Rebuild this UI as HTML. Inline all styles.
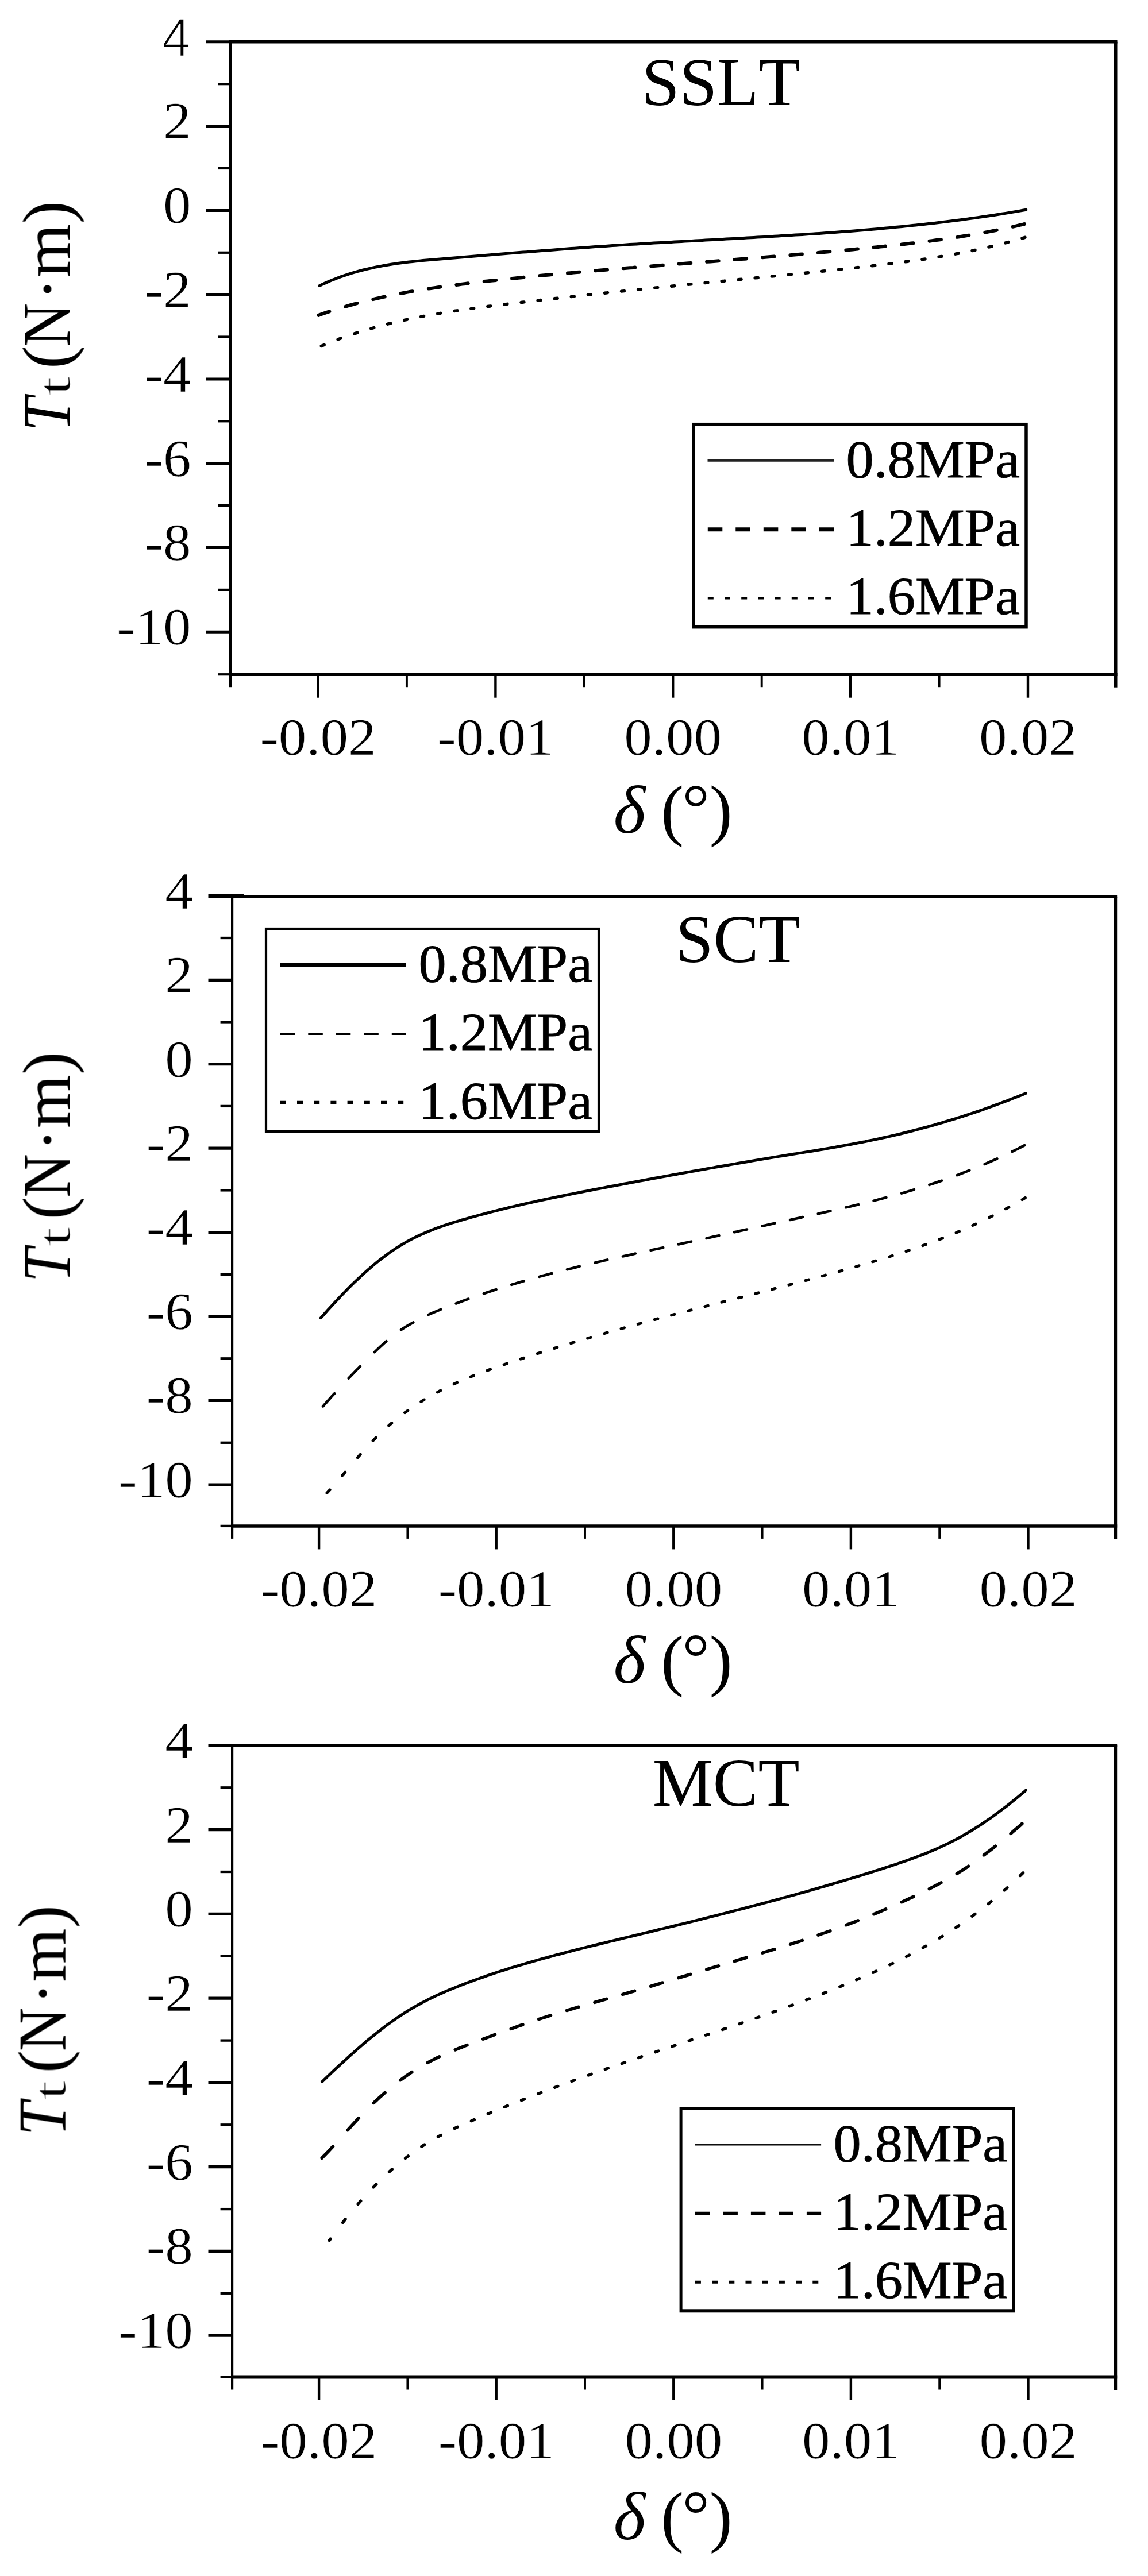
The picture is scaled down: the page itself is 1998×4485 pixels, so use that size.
<!DOCTYPE html>
<html lang="en"><head><meta charset="utf-8"><title>Tt vs delta</title>
<style>html,body{margin:0;padding:0;background:#fff;}svg{display:block;}text{font-family:'Liberation Serif', serif;fill:#000;font-kerning:none;}</style>
</head><body>
<svg width="1998" height="4485" viewBox="0 0 1998 4485">
<rect x="0" y="0" width="1998" height="4485" fill="#fff"/>
<defs><filter id="soft" x="0" y="0" width="1998" height="4485" filterUnits="userSpaceOnUse"><feGaussianBlur stdDeviation="0.6"/></filter></defs>
<g filter="url(#soft)">
<g stroke="#000" stroke-linecap="butt" fill="none">
<line x1="398.2" y1="72.8" x2="1944.5" y2="72.8" stroke-width="5.6" />
<line x1="398.2" y1="1174.2" x2="1944.5" y2="1174.2" stroke-width="5.6" />
<line x1="401.0" y1="72.8" x2="401.0" y2="1174.2" stroke-width="5.6" />
<line x1="1941.4" y1="72.8" x2="1941.4" y2="1174.2" stroke-width="6.2" />
<line x1="358.5" y1="72.8" x2="401.0" y2="72.8" stroke-width="5.0" />
<line x1="379.5" y1="146.2" x2="401.0" y2="146.2" stroke-width="4.2" />
<line x1="358.5" y1="219.6" x2="401.0" y2="219.6" stroke-width="5.0" />
<line x1="379.5" y1="293.0" x2="401.0" y2="293.0" stroke-width="4.2" />
<line x1="358.5" y1="366.4" x2="401.0" y2="366.4" stroke-width="5.0" />
<line x1="379.5" y1="439.8" x2="401.0" y2="439.8" stroke-width="4.2" />
<line x1="358.5" y1="513.2" x2="401.0" y2="513.2" stroke-width="5.0" />
<line x1="379.5" y1="586.5" x2="401.0" y2="586.5" stroke-width="4.2" />
<line x1="358.5" y1="659.9" x2="401.0" y2="659.9" stroke-width="5.0" />
<line x1="379.5" y1="733.3" x2="401.0" y2="733.3" stroke-width="4.2" />
<line x1="358.5" y1="806.7" x2="401.0" y2="806.7" stroke-width="5.0" />
<line x1="379.5" y1="880.1" x2="401.0" y2="880.1" stroke-width="4.2" />
<line x1="358.5" y1="953.5" x2="401.0" y2="953.5" stroke-width="5.0" />
<line x1="379.5" y1="1026.9" x2="401.0" y2="1026.9" stroke-width="4.2" />
<line x1="358.5" y1="1100.3" x2="401.0" y2="1100.3" stroke-width="5.0" />
<line x1="379.5" y1="1174.2" x2="401.0" y2="1174.2" stroke-width="4.2" />
<line x1="401.0" y1="1174.2" x2="401.0" y2="1196.2" stroke-width="5.6" />
<line x1="553.5" y1="1174.2" x2="553.5" y2="1214.7" stroke-width="4.4" />
<line x1="707.9" y1="1174.2" x2="707.9" y2="1196.2" stroke-width="3.9" />
<line x1="862.4" y1="1174.2" x2="862.4" y2="1214.7" stroke-width="4.4" />
<line x1="1016.8" y1="1174.2" x2="1016.8" y2="1196.2" stroke-width="3.9" />
<line x1="1171.2" y1="1174.2" x2="1171.2" y2="1214.7" stroke-width="4.4" />
<line x1="1325.7" y1="1174.2" x2="1325.7" y2="1196.2" stroke-width="3.9" />
<line x1="1480.1" y1="1174.2" x2="1480.1" y2="1214.7" stroke-width="4.4" />
<line x1="1634.6" y1="1174.2" x2="1634.6" y2="1196.2" stroke-width="3.9" />
<line x1="1789.0" y1="1174.2" x2="1789.0" y2="1214.7" stroke-width="4.4" />
<line x1="1941.4" y1="1174.2" x2="1941.4" y2="1196.7" stroke-width="6.2" />
</g>
<text transform="translate(332.0,98.0) scale(0.95,1)" font-size="95" text-anchor="end" style="font-family:'Liberation Sans',sans-serif" stroke="#fff" stroke-width="2.6">4</text>
<text transform="translate(332.6,241.4) scale(1.055,1)" font-size="92" text-anchor="end" stroke="#fff" stroke-width="0.5">2</text>
<text transform="translate(332.6,388.2) scale(1.055,1)" font-size="92" text-anchor="end" stroke="#fff" stroke-width="0.5">0</text>
<text transform="translate(332.6,535.0) scale(1.055,1)" font-size="92" text-anchor="end" stroke="#fff" stroke-width="0.5">-2</text>
<text transform="translate(332.6,681.7) scale(1.055,1)" font-size="92" text-anchor="end" stroke="#fff" stroke-width="0.5">-4</text>
<text transform="translate(332.6,828.5) scale(1.055,1)" font-size="92" text-anchor="end" stroke="#fff" stroke-width="0.5">-6</text>
<text transform="translate(332.6,975.3) scale(1.055,1)" font-size="92" text-anchor="end" stroke="#fff" stroke-width="0.5">-8</text>
<text transform="translate(332.6,1122.1) scale(1.055,1)" font-size="92" text-anchor="end" stroke="#fff" stroke-width="0.5">-10</text>
<text transform="translate(553.5,1314.0) scale(1.055,1)" font-size="92" text-anchor="middle" stroke="#fff" stroke-width="0.5">-0.02</text>
<text transform="translate(862.4,1314.0) scale(1.055,1)" font-size="92" text-anchor="middle" stroke="#fff" stroke-width="0.5">-0.01</text>
<text transform="translate(1171.2,1314.0) scale(1.055,1)" font-size="92" text-anchor="middle" stroke="#fff" stroke-width="0.5">0.00</text>
<text transform="translate(1480.1,1314.0) scale(1.055,1)" font-size="92" text-anchor="middle" stroke="#fff" stroke-width="0.5">0.01</text>
<text transform="translate(1789.0,1314.0) scale(1.055,1)" font-size="92" text-anchor="middle" stroke="#fff" stroke-width="0.5">0.02</text>
<text transform="translate(1392.5,182.5) scale(1.0,1)" font-size="118" text-anchor="end" >SSLT</text>
<text x="1067.8" y="1450.4" font-size="119.5"><tspan font-style="italic">δ</tspan><tspan dx="-3"> (</tspan><tspan dx="-2.8" dy="-3.4">°</tspan><tspan dx="-0.3" dy="3.4">)</tspan></text>
<text transform="translate(121.5,751.0) rotate(-90)" font-size="119.5"><tspan font-style="italic" textLength="59" lengthAdjust="spacingAndGlyphs">T</tspan><tspan font-size="80" dx="2.5" textLength="35" lengthAdjust="spacingAndGlyphs" stroke="#fff" stroke-width="1.6">t</tspan><tspan dx="-17.5"> (</tspan><tspan dx="-1.5" textLength="76" lengthAdjust="spacingAndGlyphs">N</tspan><tspan dx="4.5">·</tspan><tspan dx="0.5">m</tspan><tspan dx="0.5">)</tspan></text>
<g fill="none" stroke="#000" stroke-linejoin="round" stroke-linecap="round">
<path d="M556.1,497.5 L562.1,494.6 L568.1,491.9 L574.1,489.3 L580.1,486.8 L586.1,484.5 L592.1,482.2 L598.1,480.1 L604.1,478.1 L610.1,476.2 L616.1,474.4 L622.1,472.7 L628.1,471.0 L634.1,469.5 L640.1,468.1 L646.1,466.7 L652.1,465.4 L658.1,464.2 L664.1,463.1 L670.1,462.0 L676.1,461.0 L682.1,460.0 L688.1,459.1 L694.1,458.3 L700.1,457.5 L706.1,456.8 L712.1,456.1 L718.1,455.4 L724.1,454.8 L730.1,454.2 L736.1,453.6 L742.1,453.0 L748.1,452.5 L754.1,452.0 L760.1,451.5 L766.1,451.0 L772.1,450.5 L778.1,450.0 L784.1,449.5 L790.1,449.0 L796.1,448.5 L802.1,448.0 L808.1,447.5 L814.1,447.0 L820.1,446.5 L826.1,446.0 L832.1,445.5 L838.1,445.0 L844.1,444.5 L850.1,444.0 L856.1,443.5 L862.1,443.0 L868.0,442.6 L874.0,442.1 L880.0,441.6 L886.0,441.1 L892.0,440.6 L898.0,440.1 L904.0,439.6 L910.0,439.1 L916.0,438.7 L922.0,438.2 L928.0,437.7 L934.0,437.2 L940.0,436.8 L946.0,436.3 L952.0,435.8 L958.0,435.4 L964.0,434.9 L970.0,434.4 L976.0,434.0 L982.0,433.5 L988.0,433.1 L994.0,432.6 L1000.0,432.2 L1006.0,431.7 L1012.0,431.3 L1018.0,430.9 L1024.0,430.4 L1030.0,430.0 L1036.0,429.6 L1042.0,429.2 L1048.0,428.8 L1054.0,428.4 L1060.0,428.0 L1066.0,427.6 L1072.0,427.2 L1078.0,426.8 L1084.0,426.4 L1090.0,426.0 L1096.0,425.6 L1102.0,425.3 L1108.0,424.9 L1114.0,424.5 L1120.0,424.2 L1126.0,423.8 L1132.0,423.4 L1138.0,423.1 L1144.0,422.7 L1150.0,422.4 L1156.0,422.0 L1162.0,421.7 L1168.0,421.4 L1174.0,421.0 L1180.0,420.7 L1186.0,420.4 L1192.0,420.0 L1198.0,419.7 L1204.0,419.4 L1210.0,419.0 L1216.0,418.7 L1222.0,418.4 L1228.0,418.1 L1234.0,417.7 L1240.0,417.4 L1246.0,417.1 L1252.0,416.8 L1258.0,416.4 L1264.0,416.1 L1270.0,415.8 L1276.0,415.4 L1282.0,415.1 L1288.0,414.8 L1294.0,414.4 L1300.0,414.1 L1306.0,413.8 L1312.0,413.4 L1318.0,413.1 L1324.0,412.7 L1330.0,412.4 L1336.0,412.0 L1342.0,411.7 L1348.0,411.3 L1354.0,411.0 L1360.0,410.6 L1366.0,410.3 L1372.0,409.9 L1378.0,409.5 L1384.0,409.1 L1390.0,408.8 L1396.0,408.4 L1402.0,408.0 L1408.0,407.6 L1414.0,407.2 L1420.0,406.8 L1426.0,406.4 L1432.0,406.0 L1438.0,405.5 L1444.0,405.1 L1450.0,404.7 L1456.0,404.2 L1462.0,403.8 L1468.0,403.3 L1474.0,402.9 L1479.9,402.4 L1485.9,401.9 L1491.9,401.4 L1497.9,401.0 L1503.9,400.5 L1509.9,400.0 L1515.9,399.4 L1521.9,398.9 L1527.9,398.4 L1533.9,397.9 L1539.9,397.3 L1545.9,396.8 L1551.9,396.2 L1557.9,395.6 L1563.9,395.0 L1569.9,394.4 L1575.9,393.8 L1581.9,393.2 L1587.9,392.6 L1593.9,392.0 L1599.9,391.3 L1605.9,390.7 L1611.9,390.0 L1617.9,389.3 L1623.9,388.7 L1629.9,388.0 L1635.9,387.3 L1641.9,386.5 L1647.9,385.8 L1653.9,385.1 L1659.9,384.3 L1665.9,383.5 L1671.9,382.7 L1677.9,382.0 L1683.9,381.1 L1689.9,380.3 L1695.9,379.5 L1701.9,378.6 L1707.9,377.8 L1713.9,376.9 L1719.9,376.0 L1725.9,375.1 L1731.9,374.2 L1737.9,373.3 L1743.9,372.3 L1749.9,371.4 L1755.9,370.4 L1761.9,369.4 L1767.9,368.4 L1773.9,367.4 L1779.9,366.3 L1785.9,365.3 L1785.9,365.3" stroke-width="5"/>
<path d="M554.4,548.8 L560.4,546.7 L566.4,544.6 L572.4,542.6 L573.3,542.3 M601.1,533.8 L606.4,532.2 L612.4,530.5 L618.4,528.9 L621.5,528.1 M649.3,521.1 L654.4,519.9 L660.4,518.6 L666.4,517.2 L669.7,516.5 M697.6,510.9 L702.3,510.0 L708.3,508.9 L714.3,507.8 L718.0,507.2 M745.9,502.6 L750.3,502.0 L756.3,501.1 L762.3,500.2 L766.4,499.6 M794.3,495.9 L798.3,495.4 L804.3,494.6 L810.3,493.9 L814.8,493.3 M842.7,490.1 L848.3,489.5 L854.3,488.8 L860.3,488.2 L863.2,487.9 M891.1,484.9 L896.3,484.4 L902.3,483.8 L908.3,483.2 L911.6,482.8 M939.5,480.1 L944.2,479.6 L950.2,479.0 L956.2,478.5 L960.0,478.1 M988.0,475.6 L992.2,475.2 L998.2,474.6 L1004.2,474.1 L1008.5,473.7 M1036.4,471.3 L1042.2,470.8 L1048.2,470.3 L1054.2,469.8 L1056.9,469.6 M1084.8,467.3 L1090.2,466.8 L1096.2,466.3 L1102.2,465.9 L1105.3,465.6 M1133.3,463.4 L1138.2,463.0 L1144.2,462.5 L1150.2,462.0 L1153.8,461.8 M1181.7,459.6 L1186.1,459.2 L1192.1,458.8 L1198.1,458.3 L1202.2,458.0 M1230.1,455.8 L1236.1,455.4 L1242.1,454.9 L1248.1,454.4 L1250.6,454.2 M1278.6,452.0 L1284.1,451.6 L1290.1,451.1 L1296.1,450.7 L1299.1,450.4 M1327.0,448.2 L1332.1,447.8 L1338.1,447.3 L1344.1,446.8 L1347.5,446.5 M1375.4,444.2 L1380.1,443.8 L1386.1,443.3 L1392.1,442.8 L1395.9,442.4 M1423.9,440.0 L1428.0,439.6 L1434.0,439.1 L1440.0,438.5 L1444.4,438.1 M1472.3,435.5 L1478.0,435.0 L1484.0,434.4 L1490.0,433.8 L1492.8,433.5 M1520.7,430.7 L1526.0,430.2 L1532.0,429.6 L1538.0,429.0 L1541.2,428.6 M1569.1,425.6 L1574.0,425.0 L1580.0,424.3 L1586.0,423.6 L1589.6,423.2 M1617.5,419.7 L1622.0,419.1 L1628.0,418.3 L1634.0,417.5 L1638.0,417.0 M1665.9,412.9 L1669.9,412.2 L1675.9,411.3 L1681.9,410.3 L1686.4,409.6 M1714.3,404.7 L1719.9,403.6 L1725.9,402.5 L1731.9,401.3 L1734.7,400.7 M1762.6,394.8 L1767.9,393.6 L1773.9,392.2 L1779.9,390.8 L1783.0,390.0" stroke-width="6"/>
<path d="M559.2,602.4 L563.4,600.7 L564.3,600.3 M588.0,591.0 L593.0,589.1 M616.8,580.9 L621.3,579.4 L621.9,579.2 M645.7,572.0 L650.8,570.5 M674.6,564.2 L679.3,563.0 L679.7,562.9 M703.6,557.4 L708.7,556.3 M732.6,551.4 L737.2,550.5 L737.7,550.4 M761.6,546.2 L766.7,545.3 M790.7,541.5 L795.1,540.9 L795.8,540.8 M819.8,537.4 L824.8,536.7 M848.8,533.5 L853.0,533.0 L853.9,532.9 M877.9,530.0 L883.0,529.3 M907.0,526.5 L911.0,526.0 L912.1,525.9 M936.0,523.1 L940.9,522.5 L941.1,522.5 M965.1,519.7 L970.2,519.2 M994.2,516.5 L998.9,516.0 L999.3,515.9 M1023.3,513.3 L1028.4,512.7 M1052.4,510.2 L1056.8,509.7 L1057.5,509.6 M1081.4,507.1 L1086.5,506.6 M1110.5,504.1 L1114.7,503.7 L1115.6,503.6 M1139.6,501.1 L1144.7,500.6 L1144.7,500.6 M1168.7,498.2 L1173.8,497.7 M1197.8,495.3 L1202.6,494.8 L1202.9,494.8 M1226.9,492.5 L1232.0,492.0 M1255.9,489.6 L1260.5,489.2 L1261.0,489.1 M1285.0,486.8 L1290.1,486.3 M1314.1,483.9 L1318.5,483.5 L1319.2,483.5 M1343.2,481.1 L1348.3,480.6 M1372.3,478.2 L1376.4,477.8 L1377.4,477.7 M1401.4,475.3 L1406.4,474.8 L1406.5,474.8 M1430.5,472.3 L1435.5,471.8 M1459.5,469.2 L1464.3,468.7 L1464.6,468.7 M1488.6,466.1 L1493.7,465.5 M1517.7,462.9 L1522.2,462.3 L1522.8,462.3 M1546.8,459.4 L1551.9,458.8 M1575.8,455.8 L1580.2,455.2 L1580.9,455.1 M1604.9,451.7 L1610.0,451.0 M1634.0,447.2 L1638.1,446.5 L1639.0,446.4 M1663.0,442.2 L1668.0,441.2 L1668.1,441.2 M1692.0,436.5 L1696.0,435.7 L1697.1,435.4 M1721.0,430.1 L1726.0,428.9 L1726.1,428.9 M1750.0,422.9 L1755.0,421.5 M1778.9,414.8 L1783.9,413.3 L1784.0,413.3" stroke-width="5.4"/>
</g>
<rect x="1207.0" y="738.7" width="579" height="353" fill="#fff" stroke="#000" stroke-width="5.5"/>
<g stroke="#000" fill="none">
<line x1="1231.5" y1="801.7" x2="1451.0" y2="801.7" stroke-width="4" stroke="#222"/>
<line x1="1231.8" y1="921.7" x2="1451.0" y2="921.7" stroke-width="7" stroke-dasharray="25.5 23"/>
<line x1="1231.8" y1="1041.2" x2="1451.0" y2="1041.2" stroke-width="4.5" stroke-dasharray="10 19.2"/>
</g>
<text transform="translate(1472.5,830.5) scale(1.025,1)" font-size="94" text-anchor="start" stroke="#000" stroke-width="0.8">0.8MPa</text>
<text transform="translate(1472.5,950.0) scale(1.025,1)" font-size="94" text-anchor="start" stroke="#000" stroke-width="0.8">1.2MPa</text>
<text transform="translate(1472.5,1069.2) scale(1.025,1)" font-size="94" text-anchor="start" stroke="#000" stroke-width="0.8">1.6MPa</text>
<g stroke="#000" stroke-linecap="butt" fill="none">
<line x1="402.0" y1="1561.1" x2="1944.2" y2="1561.1" stroke-width="4" />
<line x1="402.0" y1="2656.9" x2="1944.2" y2="2656.9" stroke-width="5.5" />
<line x1="404.1" y1="1561.1" x2="404.1" y2="2656.9" stroke-width="4.2" />
<line x1="1941.2" y1="1561.1" x2="1941.2" y2="2656.9" stroke-width="6" />
<line x1="362.5" y1="1559.8" x2="424.1" y2="1559.8" stroke-width="6.4" />
<line x1="383.6" y1="1633.0" x2="404.1" y2="1633.0" stroke-width="4.3" />
<line x1="362.5" y1="1706.3" x2="404.1" y2="1706.3" stroke-width="5.2" />
<line x1="383.6" y1="1779.5" x2="404.1" y2="1779.5" stroke-width="4.3" />
<line x1="362.5" y1="1852.7" x2="404.1" y2="1852.7" stroke-width="5.2" />
<line x1="383.6" y1="1925.9" x2="404.1" y2="1925.9" stroke-width="4.3" />
<line x1="362.5" y1="1999.2" x2="404.1" y2="1999.2" stroke-width="5.2" />
<line x1="383.6" y1="2072.4" x2="404.1" y2="2072.4" stroke-width="4.3" />
<line x1="362.5" y1="2145.6" x2="404.1" y2="2145.6" stroke-width="5.2" />
<line x1="383.6" y1="2218.9" x2="404.1" y2="2218.9" stroke-width="4.3" />
<line x1="362.5" y1="2292.1" x2="404.1" y2="2292.1" stroke-width="5.2" />
<line x1="383.6" y1="2365.3" x2="404.1" y2="2365.3" stroke-width="4.3" />
<line x1="362.5" y1="2438.5" x2="404.1" y2="2438.5" stroke-width="5.2" />
<line x1="383.6" y1="2511.8" x2="404.1" y2="2511.8" stroke-width="4.3" />
<line x1="362.5" y1="2585.0" x2="404.1" y2="2585.0" stroke-width="5.2" />
<line x1="383.6" y1="2656.9" x2="404.1" y2="2656.9" stroke-width="4.3" />
<line x1="404.1" y1="2656.9" x2="404.1" y2="2678.9" stroke-width="4.2" />
<line x1="555.1" y1="2656.9" x2="555.1" y2="2697.4" stroke-width="4.4" />
<line x1="709.4" y1="2656.9" x2="709.4" y2="2678.9" stroke-width="3.9" />
<line x1="863.7" y1="2656.9" x2="863.7" y2="2697.4" stroke-width="4.4" />
<line x1="1018.0" y1="2656.9" x2="1018.0" y2="2678.9" stroke-width="3.9" />
<line x1="1172.3" y1="2656.9" x2="1172.3" y2="2697.4" stroke-width="4.4" />
<line x1="1326.6" y1="2656.9" x2="1326.6" y2="2678.9" stroke-width="3.9" />
<line x1="1480.9" y1="2656.9" x2="1480.9" y2="2697.4" stroke-width="4.4" />
<line x1="1635.2" y1="2656.9" x2="1635.2" y2="2678.9" stroke-width="3.9" />
<line x1="1789.5" y1="2656.9" x2="1789.5" y2="2697.4" stroke-width="4.4" />
<line x1="1941.2" y1="2656.9" x2="1941.2" y2="2679.4" stroke-width="6" />
</g>
<text transform="translate(335.7,1581.6) scale(1.055,1)" font-size="92" text-anchor="end" stroke="#fff" stroke-width="0.5">4</text>
<text transform="translate(335.7,1728.1) scale(1.055,1)" font-size="92" text-anchor="end" stroke="#fff" stroke-width="0.5">2</text>
<text transform="translate(335.7,1874.5) scale(1.055,1)" font-size="92" text-anchor="end" stroke="#fff" stroke-width="0.5">0</text>
<text transform="translate(335.7,2021.0) scale(1.055,1)" font-size="92" text-anchor="end" stroke="#fff" stroke-width="0.5">-2</text>
<text transform="translate(335.7,2167.4) scale(1.055,1)" font-size="92" text-anchor="end" stroke="#fff" stroke-width="0.5">-4</text>
<text transform="translate(335.7,2313.9) scale(1.055,1)" font-size="92" text-anchor="end" stroke="#fff" stroke-width="0.5">-6</text>
<text transform="translate(335.7,2460.3) scale(1.055,1)" font-size="92" text-anchor="end" stroke="#fff" stroke-width="0.5">-8</text>
<text transform="translate(335.7,2606.8) scale(1.055,1)" font-size="92" text-anchor="end" stroke="#fff" stroke-width="0.5">-10</text>
<text transform="translate(555.1,2797.1) scale(1.055,1)" font-size="92" text-anchor="middle" stroke="#fff" stroke-width="0.5">-0.02</text>
<text transform="translate(863.7,2797.1) scale(1.055,1)" font-size="92" text-anchor="middle" stroke="#fff" stroke-width="0.5">-0.01</text>
<text transform="translate(1172.3,2797.1) scale(1.055,1)" font-size="92" text-anchor="middle" stroke="#fff" stroke-width="0.5">0.00</text>
<text transform="translate(1480.9,2797.1) scale(1.055,1)" font-size="92" text-anchor="middle" stroke="#fff" stroke-width="0.5">0.01</text>
<text transform="translate(1789.5,2797.1) scale(1.055,1)" font-size="92" text-anchor="middle" stroke="#fff" stroke-width="0.5">0.02</text>
<text transform="translate(1392.5,1675.2) scale(1.0,1)" font-size="118" text-anchor="end" >SCT</text>
<text x="1067.8" y="2929.7" font-size="119.5"><tspan font-style="italic">δ</tspan><tspan dx="-3"> (</tspan><tspan dx="-2.8" dy="-3.4">°</tspan><tspan dx="-0.3" dy="3.4">)</tspan></text>
<text transform="translate(121.5,2232.3) rotate(-90)" font-size="119.5"><tspan font-style="italic" textLength="59" lengthAdjust="spacingAndGlyphs">T</tspan><tspan font-size="80" dx="2.5" textLength="35" lengthAdjust="spacingAndGlyphs" stroke="#fff" stroke-width="1.6">t</tspan><tspan dx="-17.5"> (</tspan><tspan dx="-1.5" textLength="76" lengthAdjust="spacingAndGlyphs">N</tspan><tspan dx="4.5">·</tspan><tspan dx="0.5">m</tspan><tspan dx="0.5">)</tspan></text>
<g fill="none" stroke="#000" stroke-linejoin="round" stroke-linecap="round">
<path d="M558.3,2294.7 L564.3,2288.0 L570.3,2281.2 L576.3,2274.6 L582.3,2268.1 L588.3,2261.7 L594.3,2255.4 L600.3,2249.2 L606.3,2243.1 L612.3,2237.1 L618.3,2231.3 L624.3,2225.6 L630.2,2220.0 L636.2,2214.6 L642.2,2209.3 L648.2,2204.1 L654.2,2199.1 L660.2,2194.3 L666.2,2189.7 L672.2,2185.2 L678.2,2180.8 L684.2,2176.7 L690.2,2172.7 L696.2,2168.9 L702.2,2165.3 L708.2,2161.9 L714.2,2158.6 L720.2,2155.5 L726.2,2152.6 L732.2,2149.8 L738.2,2147.1 L744.2,2144.5 L750.2,2142.1 L756.2,2139.7 L762.2,2137.5 L768.1,2135.4 L774.1,2133.3 L780.1,2131.3 L786.1,2129.4 L792.1,2127.6 L798.1,2125.8 L804.1,2124.0 L810.1,2122.3 L816.1,2120.6 L822.1,2118.9 L828.1,2117.3 L834.1,2115.7 L840.1,2114.1 L846.1,2112.5 L852.1,2110.9 L858.1,2109.4 L864.1,2107.9 L870.1,2106.4 L876.1,2104.9 L882.1,2103.4 L888.1,2102.0 L894.1,2100.6 L900.0,2099.1 L906.0,2097.8 L912.0,2096.4 L918.0,2095.0 L924.0,2093.7 L930.0,2092.4 L936.0,2091.0 L942.0,2089.7 L948.0,2088.5 L954.0,2087.2 L960.0,2085.9 L966.0,2084.7 L972.0,2083.4 L978.0,2082.2 L984.0,2081.0 L990.0,2079.8 L996.0,2078.6 L1002.0,2077.4 L1008.0,2076.2 L1014.0,2075.0 L1020.0,2073.9 L1026.0,2072.7 L1032.0,2071.5 L1037.9,2070.4 L1043.9,2069.2 L1049.9,2068.1 L1055.9,2067.0 L1061.9,2065.8 L1067.9,2064.7 L1073.9,2063.6 L1079.9,2062.5 L1085.9,2061.3 L1091.9,2060.2 L1097.9,2059.1 L1103.9,2058.0 L1109.9,2056.9 L1115.9,2055.8 L1121.9,2054.7 L1127.9,2053.5 L1133.9,2052.4 L1139.9,2051.3 L1145.9,2050.2 L1151.9,2049.1 L1157.9,2048.0 L1163.9,2046.9 L1169.9,2045.8 L1175.8,2044.7 L1181.8,2043.6 L1187.8,2042.5 L1193.8,2041.5 L1199.8,2040.4 L1205.8,2039.3 L1211.8,2038.2 L1217.8,2037.1 L1223.8,2036.1 L1229.8,2035.0 L1235.8,2033.9 L1241.8,2032.9 L1247.8,2031.8 L1253.8,2030.8 L1259.8,2029.7 L1265.8,2028.7 L1271.8,2027.6 L1277.8,2026.6 L1283.8,2025.5 L1289.8,2024.5 L1295.8,2023.5 L1301.8,2022.5 L1307.8,2021.4 L1313.7,2020.4 L1319.7,2019.4 L1325.7,2018.4 L1331.7,2017.4 L1337.7,2016.4 L1343.7,2015.4 L1349.7,2014.4 L1355.7,2013.4 L1361.7,2012.5 L1367.7,2011.5 L1373.7,2010.5 L1379.7,2009.5 L1385.7,2008.6 L1391.7,2007.6 L1397.7,2006.6 L1403.7,2005.6 L1409.7,2004.7 L1415.7,2003.7 L1421.7,2002.7 L1427.7,2001.7 L1433.7,2000.7 L1439.7,1999.6 L1445.6,1998.6 L1451.6,1997.6 L1457.6,1996.5 L1463.6,1995.4 L1469.6,1994.4 L1475.6,1993.3 L1481.6,1992.2 L1487.6,1991.0 L1493.6,1989.9 L1499.6,1988.7 L1505.6,1987.6 L1511.6,1986.3 L1517.6,1985.1 L1523.6,1983.9 L1529.6,1982.6 L1535.6,1981.3 L1541.6,1980.0 L1547.6,1978.6 L1553.6,1977.3 L1559.6,1975.9 L1565.6,1974.5 L1571.6,1973.0 L1577.6,1971.5 L1583.5,1970.0 L1589.5,1968.5 L1595.5,1966.9 L1601.5,1965.4 L1607.5,1963.7 L1613.5,1962.1 L1619.5,1960.5 L1625.5,1958.8 L1631.5,1957.0 L1637.5,1955.3 L1643.5,1953.5 L1649.5,1951.7 L1655.5,1949.9 L1661.5,1948.1 L1667.5,1946.2 L1673.5,1944.3 L1679.5,1942.3 L1685.5,1940.4 L1691.5,1938.4 L1697.5,1936.4 L1703.5,1934.3 L1709.5,1932.3 L1715.5,1930.2 L1721.4,1928.0 L1727.4,1925.9 L1733.4,1923.7 L1739.4,1921.5 L1745.4,1919.2 L1751.4,1917.0 L1757.4,1914.7 L1763.4,1912.3 L1769.4,1910.0 L1775.4,1907.6 L1781.4,1905.2 L1785.4,1903.5" stroke-width="5"/>
<path d="M562.1,2448.6 L566.3,2443.8 L572.3,2437.0 L578.3,2430.3 L582.1,2426.2 M606.7,2399.7 L612.3,2393.9 L618.3,2387.7 L624.3,2381.5 L627.0,2378.8 M651.9,2354.1 L656.3,2349.9 L662.3,2344.3 L668.3,2338.9 L672.4,2335.2 M698.0,2315.3 L702.3,2312.5 L708.3,2308.8 L714.3,2305.3 L719.3,2302.5 M745.6,2289.0 L750.3,2286.9 L756.3,2284.3 L762.3,2281.8 L767.2,2279.8 M793.7,2269.5 L798.3,2267.8 L804.3,2265.5 L810.3,2263.3 L815.3,2261.5 M841.9,2252.3 L846.3,2250.8 L852.3,2248.8 L858.3,2246.8 L863.6,2245.1 M890.2,2236.8 L894.3,2235.6 L900.3,2233.8 L906.3,2232.0 L911.9,2230.4 M938.6,2222.9 L944.3,2221.3 L950.3,2219.7 L956.3,2218.1 L960.3,2217.0 M987.0,2210.2 L992.3,2208.9 L998.3,2207.4 L1004.3,2205.9 L1008.8,2204.8 M1035.5,2198.5 L1040.3,2197.3 L1046.3,2196.0 L1052.3,2194.6 L1057.3,2193.4 M1084.0,2187.4 L1088.3,2186.5 L1094.3,2185.2 L1100.3,2183.9 L1105.8,2182.6 M1132.5,2176.8 L1138.3,2175.6 L1144.3,2174.3 L1150.3,2173.0 L1154.3,2172.2 M1181.0,2166.4 L1186.2,2165.3 L1192.2,2164.0 L1198.2,2162.7 L1202.9,2161.7 M1229.6,2155.9 L1234.2,2154.9 L1240.2,2153.6 L1246.2,2152.3 L1251.4,2151.2 M1278.1,2145.3 L1282.2,2144.4 L1288.2,2143.1 L1294.2,2141.7 L1299.9,2140.5 M1326.6,2134.6 L1332.2,2133.4 L1338.2,2132.1 L1344.2,2130.7 L1348.4,2129.8 M1375.1,2123.9 L1380.2,2122.8 L1386.2,2121.5 L1392.2,2120.2 L1396.9,2119.1 M1423.7,2113.3 L1428.2,2112.3 L1434.2,2110.9 L1440.2,2109.6 L1445.5,2108.4 M1472.2,2102.3 L1476.2,2101.4 L1482.2,2099.9 L1488.2,2098.5 L1494.0,2097.2 M1520.6,2090.6 L1526.2,2089.1 L1532.2,2087.6 L1538.2,2086.0 L1542.4,2084.9 M1569.1,2077.6 L1574.2,2076.1 L1580.2,2074.4 L1586.2,2072.6 L1590.8,2071.2 M1617.4,2062.9 L1622.2,2061.3 L1628.2,2059.3 L1634.2,2057.3 L1639.1,2055.6 M1665.7,2046.1 L1670.2,2044.3 L1676.2,2042.0 L1682.2,2039.7 L1687.3,2037.7 M1713.7,2026.8 L1718.2,2024.9 L1724.2,2022.2 L1730.2,2019.6 L1735.3,2017.3 M1761.7,2004.9 L1766.2,2002.7 L1772.2,1999.7 L1778.2,1996.6 L1783.1,1994.1" stroke-width="4.6"/>
<path d="M569.0,2599.4 L573.4,2594.6 L574.1,2593.9 M595.7,2569.0 L600.7,2563.1 M622.3,2537.8 L627.3,2532.1 M649.1,2508.2 L653.3,2504.0 L654.2,2503.0 M676.6,2482.1 L681.3,2478.0 L681.8,2477.6 M704.5,2459.6 L709.3,2456.2 L709.8,2455.8 M732.8,2440.4 L737.2,2437.7 L738.1,2437.1 M761.4,2423.9 L766.8,2421.0 M790.2,2409.6 L795.2,2407.3 L795.6,2407.1 M819.1,2397.1 L823.1,2395.5 L824.5,2395.0 M848.1,2386.1 L853.1,2384.2 L853.5,2384.1 M877.2,2375.9 L882.6,2374.0 M906.2,2366.1 L911.1,2364.5 L911.7,2364.3 M935.3,2356.7 L940.8,2354.9 M964.5,2347.5 L969.0,2346.1 L969.9,2345.8 M993.6,2338.6 L999.0,2337.0 L999.1,2337.0 M1022.7,2330.0 L1026.9,2328.8 L1028.2,2328.4 M1051.9,2321.6 L1056.9,2320.2 L1057.3,2320.0 M1081.0,2313.4 L1086.5,2311.9 M1110.2,2305.4 L1114.9,2304.1 L1115.7,2303.9 M1139.4,2297.5 L1144.8,2296.0 L1144.9,2296.0 M1168.6,2289.8 L1172.8,2288.7 L1174.0,2288.3 M1197.8,2282.2 L1202.8,2280.9 L1203.2,2280.8 M1226.9,2274.7 L1232.4,2273.3 M1256.1,2267.2 L1260.7,2266.0 L1261.6,2265.8 M1285.3,2259.7 L1290.7,2258.4 L1290.8,2258.4 M1314.5,2252.3 L1318.7,2251.2 L1320.0,2250.9 M1343.7,2244.8 L1348.6,2243.5 L1349.2,2243.4 M1372.9,2237.2 L1378.4,2235.8 M1402.1,2229.5 L1406.6,2228.3 L1407.6,2228.0 M1431.3,2221.6 L1436.5,2220.2 L1436.7,2220.1 M1460.4,2213.6 L1464.5,2212.5 L1465.9,2212.1 M1489.6,2205.3 L1494.5,2203.9 L1495.0,2203.8 M1518.7,2196.8 L1524.2,2195.2 M1547.9,2188.0 L1552.4,2186.5 L1553.3,2186.2 M1577.0,2178.6 L1582.4,2176.8 L1582.4,2176.8 M1606.0,2168.6 L1610.4,2167.0 L1611.5,2166.6 M1635.1,2157.8 L1640.3,2155.8 L1640.5,2155.7 M1664.0,2146.2 L1668.3,2144.4 L1669.5,2143.9 M1692.9,2133.5 L1698.3,2131.1 L1698.3,2131.1 M1721.8,2119.8 L1726.3,2117.5 L1727.2,2117.1 M1750.5,2104.8 L1755.9,2101.9 M1779.1,2088.6 L1784.2,2085.5 L1784.5,2085.3" stroke-width="5"/>
</g>
<rect x="463.0" y="1617.0" width="579" height="353" fill="#fff" stroke="#000" stroke-width="4.2"/>
<g stroke="#000" fill="none">
<line x1="487.5" y1="1680.0" x2="707.0" y2="1680.0" stroke-width="6.5" stroke="#000"/>
<line x1="487.8" y1="1800.0" x2="707.0" y2="1800.0" stroke-width="4.2" stroke-dasharray="25.5 23"/>
<line x1="487.8" y1="1919.5" x2="707.0" y2="1919.5" stroke-width="5.7" stroke-dasharray="10 19.2"/>
</g>
<text transform="translate(728.5,1708.8) scale(1.025,1)" font-size="94" text-anchor="start" stroke="#000" stroke-width="0.8">0.8MPa</text>
<text transform="translate(728.5,1828.3) scale(1.025,1)" font-size="94" text-anchor="start" stroke="#000" stroke-width="0.8">1.2MPa</text>
<text transform="translate(728.5,1947.5) scale(1.025,1)" font-size="94" text-anchor="start" stroke="#000" stroke-width="0.8">1.6MPa</text>
<g stroke="#000" stroke-linecap="butt" fill="none">
<line x1="402.0" y1="3038.9" x2="1944.2" y2="3038.9" stroke-width="6" />
<line x1="402.0" y1="4138.5" x2="1944.2" y2="4138.5" stroke-width="5.8" />
<line x1="404.1" y1="3038.9" x2="404.1" y2="4138.5" stroke-width="4.2" />
<line x1="1941.2" y1="3038.9" x2="1941.2" y2="4138.5" stroke-width="6" />
<line x1="362.5" y1="3038.9" x2="404.1" y2="3038.9" stroke-width="5.2" />
<line x1="383.6" y1="3112.3" x2="404.1" y2="3112.3" stroke-width="4.3" />
<line x1="362.5" y1="3185.7" x2="404.1" y2="3185.7" stroke-width="5.2" />
<line x1="383.6" y1="3259.0" x2="404.1" y2="3259.0" stroke-width="4.3" />
<line x1="362.5" y1="3332.4" x2="404.1" y2="3332.4" stroke-width="5.2" />
<line x1="383.6" y1="3405.8" x2="404.1" y2="3405.8" stroke-width="4.3" />
<line x1="362.5" y1="3479.2" x2="404.1" y2="3479.2" stroke-width="5.2" />
<line x1="383.6" y1="3552.6" x2="404.1" y2="3552.6" stroke-width="4.3" />
<line x1="362.5" y1="3625.9" x2="404.1" y2="3625.9" stroke-width="5.2" />
<line x1="383.6" y1="3699.3" x2="404.1" y2="3699.3" stroke-width="4.3" />
<line x1="362.5" y1="3772.7" x2="404.1" y2="3772.7" stroke-width="5.2" />
<line x1="383.6" y1="3846.1" x2="404.1" y2="3846.1" stroke-width="4.3" />
<line x1="362.5" y1="3919.4" x2="404.1" y2="3919.4" stroke-width="5.2" />
<line x1="383.6" y1="3992.8" x2="404.1" y2="3992.8" stroke-width="4.3" />
<line x1="362.5" y1="4066.2" x2="404.1" y2="4066.2" stroke-width="5.2" />
<line x1="383.6" y1="4138.5" x2="404.1" y2="4138.5" stroke-width="4.3" />
<line x1="404.1" y1="4138.5" x2="404.1" y2="4160.5" stroke-width="4.2" />
<line x1="555.1" y1="4138.5" x2="555.1" y2="4179.0" stroke-width="4.4" />
<line x1="709.4" y1="4138.5" x2="709.4" y2="4160.5" stroke-width="3.9" />
<line x1="863.7" y1="4138.5" x2="863.7" y2="4179.0" stroke-width="4.4" />
<line x1="1018.0" y1="4138.5" x2="1018.0" y2="4160.5" stroke-width="3.9" />
<line x1="1172.3" y1="4138.5" x2="1172.3" y2="4179.0" stroke-width="4.4" />
<line x1="1326.6" y1="4138.5" x2="1326.6" y2="4160.5" stroke-width="3.9" />
<line x1="1480.9" y1="4138.5" x2="1480.9" y2="4179.0" stroke-width="4.4" />
<line x1="1635.2" y1="4138.5" x2="1635.2" y2="4160.5" stroke-width="3.9" />
<line x1="1789.5" y1="4138.5" x2="1789.5" y2="4179.0" stroke-width="4.4" />
<line x1="1941.2" y1="4138.5" x2="1941.2" y2="4161.0" stroke-width="6" />
</g>
<text transform="translate(335.7,3060.7) scale(1.055,1)" font-size="92" text-anchor="end" stroke="#fff" stroke-width="0.5">4</text>
<text transform="translate(335.7,3207.5) scale(1.055,1)" font-size="92" text-anchor="end" stroke="#fff" stroke-width="0.5">2</text>
<text transform="translate(335.7,3354.2) scale(1.055,1)" font-size="92" text-anchor="end" stroke="#fff" stroke-width="0.5">0</text>
<text transform="translate(335.7,3501.0) scale(1.055,1)" font-size="92" text-anchor="end" stroke="#fff" stroke-width="0.5">-2</text>
<text transform="translate(335.7,3647.7) scale(1.055,1)" font-size="92" text-anchor="end" stroke="#fff" stroke-width="0.5">-4</text>
<text transform="translate(335.7,3794.5) scale(1.055,1)" font-size="92" text-anchor="end" stroke="#fff" stroke-width="0.5">-6</text>
<text transform="translate(335.7,3941.2) scale(1.055,1)" font-size="92" text-anchor="end" stroke="#fff" stroke-width="0.5">-8</text>
<text transform="translate(335.7,4088.0) scale(1.055,1)" font-size="92" text-anchor="end" stroke="#fff" stroke-width="0.5">-10</text>
<text transform="translate(555.1,4279.8) scale(1.055,1)" font-size="92" text-anchor="middle" stroke="#fff" stroke-width="0.5">-0.02</text>
<text transform="translate(863.7,4279.8) scale(1.055,1)" font-size="92" text-anchor="middle" stroke="#fff" stroke-width="0.5">-0.01</text>
<text transform="translate(1172.3,4279.8) scale(1.055,1)" font-size="92" text-anchor="middle" stroke="#fff" stroke-width="0.5">0.00</text>
<text transform="translate(1480.9,4279.8) scale(1.055,1)" font-size="92" text-anchor="middle" stroke="#fff" stroke-width="0.5">0.01</text>
<text transform="translate(1789.5,4279.8) scale(1.055,1)" font-size="92" text-anchor="middle" stroke="#fff" stroke-width="0.5">0.02</text>
<text transform="translate(1391.5,3143.5) scale(1.0,1)" font-size="118" text-anchor="end" >MCT</text>
<text x="1067.8" y="4421.1" font-size="119.5"><tspan font-style="italic">δ</tspan><tspan dx="-3"> (</tspan><tspan dx="-2.8" dy="-3.4">°</tspan><tspan dx="-0.3" dy="3.4">)</tspan></text>
<text transform="translate(113.7,3718.4) rotate(-90)" font-size="119.5"><tspan font-style="italic" textLength="59" lengthAdjust="spacingAndGlyphs">T</tspan><tspan font-size="80" dx="2.5" textLength="35" lengthAdjust="spacingAndGlyphs" stroke="#fff" stroke-width="1.6">t</tspan><tspan dx="-17.5"> (</tspan><tspan dx="-1.5" textLength="76" lengthAdjust="spacingAndGlyphs">N</tspan><tspan dx="4.5">·</tspan><tspan dx="0.5">m</tspan><tspan dx="0.5">)</tspan></text>
<g fill="none" stroke="#000" stroke-linejoin="round" stroke-linecap="round">
<path d="M560.5,3624.5 L566.5,3618.7 L572.5,3613.0 L578.5,3607.3 L584.5,3601.7 L590.5,3596.1 L596.5,3590.6 L602.5,3585.1 L608.5,3579.6 L614.5,3574.3 L620.4,3569.0 L626.4,3563.8 L632.4,3558.6 L638.4,3553.5 L644.4,3548.5 L650.4,3543.7 L656.4,3538.9 L662.4,3534.2 L668.4,3529.6 L674.4,3525.1 L680.4,3520.7 L686.4,3516.5 L692.4,3512.3 L698.4,3508.3 L704.4,3504.4 L710.4,3500.7 L716.4,3497.1 L722.4,3493.6 L728.3,3490.3 L734.3,3487.0 L740.3,3483.9 L746.3,3480.8 L752.3,3477.9 L758.3,3475.0 L764.3,3472.3 L770.3,3469.6 L776.3,3467.0 L782.3,3464.4 L788.3,3462.0 L794.3,3459.6 L800.3,3457.2 L806.3,3454.9 L812.3,3452.6 L818.3,3450.4 L824.3,3448.2 L830.3,3446.0 L836.3,3443.9 L842.2,3441.8 L848.2,3439.7 L854.2,3437.7 L860.2,3435.6 L866.2,3433.7 L872.2,3431.7 L878.2,3429.8 L884.2,3427.9 L890.2,3426.0 L896.2,3424.2 L902.2,3422.4 L908.2,3420.6 L914.2,3418.8 L920.2,3417.0 L926.2,3415.3 L932.2,3413.6 L938.2,3411.9 L944.2,3410.2 L950.2,3408.6 L956.1,3407.0 L962.1,3405.3 L968.1,3403.7 L974.1,3402.2 L980.1,3400.6 L986.1,3399.0 L992.1,3397.5 L998.1,3395.9 L1004.1,3394.4 L1010.1,3392.9 L1016.1,3391.4 L1022.1,3389.9 L1028.1,3388.4 L1034.1,3387.0 L1040.1,3385.5 L1046.1,3384.0 L1052.1,3382.6 L1058.1,3381.1 L1064.0,3379.6 L1070.0,3378.2 L1076.0,3376.8 L1082.0,3375.3 L1088.0,3373.9 L1094.0,3372.4 L1100.0,3371.0 L1106.0,3369.5 L1112.0,3368.1 L1118.0,3366.6 L1124.0,3365.2 L1130.0,3363.7 L1136.0,3362.3 L1142.0,3360.8 L1148.0,3359.3 L1154.0,3357.9 L1160.0,3356.4 L1166.0,3354.9 L1172.0,3353.5 L1177.9,3352.0 L1183.9,3350.5 L1189.9,3349.1 L1195.9,3347.6 L1201.9,3346.1 L1207.9,3344.6 L1213.9,3343.1 L1219.9,3341.6 L1225.9,3340.1 L1231.9,3338.6 L1237.9,3337.1 L1243.9,3335.6 L1249.9,3334.1 L1255.9,3332.6 L1261.9,3331.1 L1267.9,3329.5 L1273.9,3328.0 L1279.9,3326.4 L1285.8,3324.9 L1291.8,3323.3 L1297.8,3321.8 L1303.8,3320.2 L1309.8,3318.7 L1315.8,3317.1 L1321.8,3315.5 L1327.8,3313.9 L1333.8,3312.3 L1339.8,3310.7 L1345.8,3309.1 L1351.8,3307.5 L1357.8,3305.9 L1363.8,3304.2 L1369.8,3302.6 L1375.8,3300.9 L1381.8,3299.3 L1387.8,3297.6 L1393.8,3295.9 L1399.7,3294.3 L1405.7,3292.6 L1411.7,3290.9 L1417.7,3289.2 L1423.7,3287.5 L1429.7,3285.7 L1435.7,3284.0 L1441.7,3282.2 L1447.7,3280.5 L1453.7,3278.7 L1459.7,3277.0 L1465.7,3275.2 L1471.7,3273.4 L1477.7,3271.6 L1483.7,3269.7 L1489.7,3267.9 L1495.7,3266.1 L1501.7,3264.2 L1507.6,3262.4 L1513.6,3260.5 L1519.6,3258.6 L1525.6,3256.7 L1531.6,3254.8 L1537.6,3252.9 L1543.6,3250.9 L1549.6,3249.0 L1555.6,3247.0 L1561.6,3245.0 L1567.6,3243.0 L1573.6,3240.9 L1579.6,3238.8 L1585.6,3236.7 L1591.6,3234.5 L1597.6,3232.2 L1603.6,3229.9 L1609.6,3227.6 L1615.6,3225.1 L1621.5,3222.6 L1627.5,3220.0 L1633.5,3217.4 L1639.5,3214.6 L1645.5,3211.8 L1651.5,3208.9 L1657.5,3205.8 L1663.5,3202.7 L1669.5,3199.5 L1675.5,3196.2 L1681.5,3192.7 L1687.5,3189.2 L1693.5,3185.5 L1699.5,3181.7 L1705.5,3177.9 L1711.5,3173.9 L1717.5,3169.8 L1723.5,3165.7 L1729.5,3161.4 L1735.4,3157.0 L1741.4,3152.6 L1747.4,3148.0 L1753.4,3143.4 L1759.4,3138.6 L1765.4,3133.8 L1771.4,3128.9 L1777.4,3123.9 L1783.4,3118.8 L1785.4,3117.0" stroke-width="5"/>
<path d="M560.2,3757.2 L565.6,3751.8 L571.6,3745.6 L577.6,3739.2 L579.5,3737.1 M605.2,3708.6 L609.6,3703.7 L615.6,3697.1 L621.6,3690.6 L624.3,3687.7 M650.4,3661.3 L655.6,3656.4 L661.6,3650.8 L667.6,3645.5 L670.0,3643.4 M696.7,3621.7 L701.6,3618.2 L707.6,3613.9 L713.6,3609.8 L716.8,3607.6 M744.2,3591.3 L749.6,3588.4 L755.6,3585.3 L761.6,3582.3 L764.6,3580.8 M792.3,3568.8 L797.6,3566.7 L803.6,3564.3 L809.6,3562.0 L813.0,3560.7 M840.7,3550.1 L845.6,3548.3 L851.6,3546.1 L857.6,3543.9 L861.4,3542.4 M889.2,3532.3 L893.5,3530.8 L899.5,3528.6 L905.5,3526.5 L909.9,3525.0 M937.7,3515.6 L943.5,3513.7 L949.5,3511.8 L955.5,3509.9 L958.5,3509.0 M986.4,3500.5 L991.5,3498.9 L997.5,3497.1 L1003.5,3495.4 L1007.1,3494.3 M1035.0,3486.3 L1039.5,3485.0 L1045.5,3483.3 L1051.5,3481.6 L1055.8,3480.4 M1083.7,3472.4 L1089.5,3470.7 L1095.5,3469.0 L1101.5,3467.3 L1104.5,3466.4 M1132.4,3458.2 L1137.5,3456.7 L1143.5,3454.9 L1149.5,3453.1 L1153.1,3452.0 M1181.0,3443.6 L1185.5,3442.3 L1191.5,3440.5 L1197.5,3438.7 L1201.8,3437.4 M1229.7,3429.0 L1235.5,3427.3 L1241.5,3425.5 L1247.5,3423.7 L1250.4,3422.8 M1278.3,3414.6 L1283.5,3413.0 L1289.5,3411.3 L1295.5,3409.5 L1299.1,3408.4 M1327.0,3400.1 L1331.5,3398.7 L1337.5,3396.9 L1343.5,3395.1 L1347.7,3393.8 M1375.6,3385.1 L1381.5,3383.2 L1387.5,3381.3 L1393.5,3379.3 L1396.3,3378.4 M1424.1,3369.0 L1429.5,3367.2 L1435.5,3365.1 L1441.5,3363.0 L1444.8,3361.8 M1472.6,3351.7 L1477.5,3349.8 L1483.4,3347.6 L1489.4,3345.3 L1493.3,3343.8 M1521.0,3332.6 L1525.4,3330.8 L1531.4,3328.3 L1537.4,3325.7 L1541.7,3323.9 M1569.3,3311.7 L1573.4,3309.8 L1579.4,3307.0 L1585.4,3304.2 L1589.9,3302.1 M1617.4,3288.6 L1621.4,3286.5 L1627.4,3283.5 L1633.4,3280.3 L1637.9,3278.0 M1665.3,3262.3 L1669.4,3259.7 L1675.4,3255.9 L1681.4,3252.0 L1685.5,3249.2 M1712.5,3229.8 L1717.4,3226.1 L1723.4,3221.5 L1729.4,3216.8 L1732.5,3214.3 M1759.1,3192.3 L1763.4,3188.6 L1769.4,3183.5 L1775.4,3178.3 L1778.9,3175.2" stroke-width="5.6"/>
<path d="M573.1,3900.7 L575.1,3897.9 M596.5,3869.7 L601.1,3863.9 L601.2,3863.7 M623.0,3837.5 L627.1,3832.8 L627.8,3832.0 M650.0,3808.0 L654.9,3802.9 M677.4,3781.3 L682.4,3776.8 M705.3,3757.7 L710.4,3753.8 M733.7,3737.3 L738.8,3734.0 M762.3,3720.2 L767.0,3717.7 L767.5,3717.4 M791.2,3705.6 L796.4,3703.2 M820.2,3692.7 L824.9,3690.6 L825.4,3690.4 M849.2,3680.3 L854.5,3678.2 M878.3,3668.4 L882.9,3666.5 L883.5,3666.2 M907.4,3656.7 L912.6,3654.7 M936.5,3645.4 L940.8,3643.8 L941.8,3643.4 M965.6,3634.4 L970.8,3632.5 L970.9,3632.4 M994.8,3623.6 L1000.0,3621.7 M1024.0,3613.1 L1028.8,3611.4 L1029.2,3611.2 M1053.1,3602.7 L1058.4,3600.9 M1082.3,3592.6 L1086.7,3591.1 L1087.6,3590.8 M1111.5,3582.6 L1116.7,3580.8 L1116.7,3580.8 M1140.7,3572.7 L1145.9,3570.9 M1169.9,3562.9 L1174.7,3561.3 L1175.1,3561.1 M1199.1,3553.1 L1204.3,3551.3 M1228.3,3543.4 L1232.6,3541.9 L1233.5,3541.6 M1257.5,3533.6 L1262.6,3531.8 L1262.7,3531.8 M1286.7,3523.7 L1291.9,3521.9 M1315.9,3513.6 L1320.5,3512.0 L1321.1,3511.8 M1345.1,3503.3 L1350.3,3501.5 M1374.2,3492.8 L1378.5,3491.2 L1379.5,3490.9 M1403.4,3481.9 L1408.5,3480.0 L1408.6,3480.0 M1432.5,3470.7 L1437.7,3468.7 M1461.6,3459.1 L1466.4,3457.1 L1466.8,3456.9 M1490.6,3446.9 L1495.8,3444.7 M1519.6,3434.3 L1524.4,3432.1 L1524.9,3431.9 M1548.6,3420.9 L1553.8,3418.4 M1577.5,3406.5 L1582.4,3404.0 L1582.7,3403.9 M1606.3,3391.1 L1610.3,3388.8 L1611.5,3388.2 M1635.0,3374.3 L1640.2,3371.2 M1663.6,3356.1 L1668.3,3352.9 L1668.7,3352.7 M1691.9,3336.3 L1696.3,3333.1 L1697.0,3332.5 M1720.1,3314.6 L1724.2,3311.3 L1725.1,3310.5 M1748.0,3291.1 L1752.2,3287.4 L1753.0,3286.7 M1775.6,3265.6 L1780.2,3261.2 L1780.6,3260.8" stroke-width="5.2"/>
</g>
<rect x="1185.1" y="3670.8" width="579" height="353" fill="#fff" stroke="#000" stroke-width="5"/>
<g stroke="#000" fill="none">
<line x1="1209.6" y1="3733.8" x2="1429.1" y2="3733.8" stroke-width="3.5" stroke="#111"/>
<line x1="1209.9" y1="3853.8" x2="1429.1" y2="3853.8" stroke-width="6" stroke-dasharray="25.5 23"/>
<line x1="1209.9" y1="3973.3" x2="1429.1" y2="3973.3" stroke-width="5" stroke-dasharray="10 19.2"/>
</g>
<text transform="translate(1450.6,3762.6) scale(1.025,1)" font-size="94" text-anchor="start" stroke="#000" stroke-width="0.8">0.8MPa</text>
<text transform="translate(1450.6,3882.1) scale(1.025,1)" font-size="94" text-anchor="start" stroke="#000" stroke-width="0.8">1.2MPa</text>
<text transform="translate(1450.6,4001.3) scale(1.025,1)" font-size="94" text-anchor="start" stroke="#000" stroke-width="0.8">1.6MPa</text>
</g>
</svg></body></html>
